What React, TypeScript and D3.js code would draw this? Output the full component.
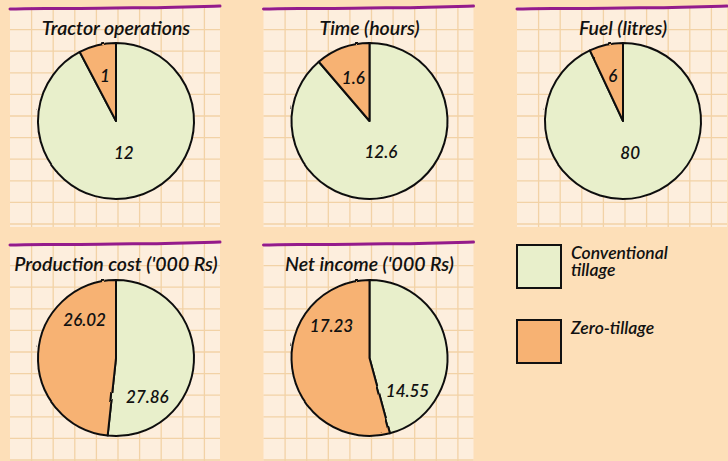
import React, { useEffect, useRef } from 'react';
import * as d3 from 'd3';

// chart titles, one pie per title
const titles = [
  'Tractor operations',
  'Time (hours)',
  'Fuel (litres)',
  "Production cost ('000 Rs)",
  "Net income ('000 Rs)",
];
const conventional = [12, 12.6, 80, 27.86, 14.55];
const zeroTillage = [1, 1.6, 6, 26.02, 17.23];
const seriesNames = ['Conventional tillage', 'Zero-tillage'];

const W = 728;
const H = 461;
const colors = ['#e8efcb', '#f7b273'];
const font = 'Lato, "Open Sans", sans-serif';

const App = () => {
  const svgRef = useRef<SVGSVGElement>(null);

  useEffect(() => {
    const svg = d3.select(svgRef.current).attr('width', W).attr('height', H);
    svg.selectAll('*').remove();

    svg.append('rect').attr('width', W).attr('height', H).attr('fill', '#fddfb8');

    const defs = svg.append('defs');
    const filter = defs.append('filter').attr('id', 'rough')
      .attr('x', '-20%').attr('y', '-20%').attr('width', '140%').attr('height', '140%');
    filter.append('feTurbulence').attr('type', 'fractalNoise').attr('baseFrequency', 0.04)
      .attr('numOctaves', 1).attr('seed', 3).attr('result', 'noise');
    filter.append('feDisplacementMap').attr('in', 'SourceGraphic').attr('in2', 'noise').attr('scale', 2.5);

    // panel layout
    const panelW = 210;
    const colX = d3.scalePoint<number>().domain([0, 1, 2]).range([10, 517]);
    const rowY = d3.scalePoint<number>().domain([0, 1]).range([7, 243]);
    const cell = 21.6;
    const R = 78;

    const pie = d3.pie<number>().sort(null).value((d) => d);
    const arc = d3.arc<d3.PieArcDatum<number>>().innerRadius(0).outerRadius(R);

    titles.forEach((title, i) => {
      const px = colX(i % 3)!;
      const py = rowY(Math.floor(i / 3))!;
      const g = svg.append('g').attr('transform', `translate(${px},${py})`);

      const panelH = Math.min(220, H - py + 20);
      g.append('rect').attr('width', panelW).attr('height', panelH).attr('fill', '#fdeedd');

      // grid
      const grid = g.append('g').attr('stroke', '#f2d2a6').attr('stroke-width', 1.3);
      d3.range(cell, panelW, cell).forEach((x) => {
        grid.append('line').attr('x1', x).attr('x2', x).attr('y1', 0).attr('y2', panelH);
      });
      d3.range(cell + 1, panelH, cell).forEach((y) => {
        grid.append('line').attr('x1', 0).attr('x2', panelW).attr('y1', y).attr('y2', y);
      });

      // purple hand drawn top line
      const wobble = [2, 1.4, 1.8, 0.8, 0.9, 0, -1];
      const line = d3.line<number>()
        .x((_, k) => (k / (wobble.length - 1)) * panelW)
        .y((d) => d)
        .curve(d3.curveBasis);
      g.append('path').attr('d', line(wobble)).attr('fill', 'none')
        .attr('stroke', '#941b8b').attr('stroke-width', 3).attr('stroke-linecap', 'round');

      g.append('text')
        .attr('x', 106)
        .attr('y', 28)
        .attr('text-anchor', 'middle')
        .attr('font-family', font)
        .attr('font-style', 'italic')
        .attr('font-weight', 600)
        .attr('font-size', 19.5)
        .attr('fill', '#111')
        .text(title);

      const values = [conventional[i], zeroTillage[i]];
      const total = d3.sum(values);
      const dominated = d3.max(values)! / total > 0.8;
      const arcs = pie(values);

      const pg = g.append('g').attr('transform', `translate(106,${114 + (i >= 3 ? 1 : 0)})`);
      pg.selectAll('path')
        .data(arcs)
        .enter()
        .append('path')
        .attr('d', arc)
        .attr('fill', (_, k) => colors[k])
        .attr('stroke', '#111')
        .attr('stroke-width', 2)
        .attr('stroke-linejoin', 'round')
        .attr('filter', 'url(#rough)');

      pg.selectAll('text')
        .data(arcs)
        .enter()
        .append('text')
        .each(function (d) {
          const share = d.value / total;
          const mid = (d.startAngle + d.endAngle) / 2;
          const angle = dominated ? mid : mid + (48 * Math.PI) / 180;
          const r = dominated ? (share > 0.5 ? 0.42 * R : 0.6 * R) : 0.64 * R;
          const [x, y] = d3.pointRadial(angle, r);
          d3.select(this).attr('x', x).attr('y', y);
        })
        .attr('text-anchor', 'middle')
        .attr('dominant-baseline', 'central')
        .attr('font-family', font)
        .attr('font-style', 'italic')
        .attr('font-weight', 600)
        .attr('font-size', 17)
        .attr('fill', '#111')
        .text((d) => String(d.value));
    });

    // legend
    const legend = svg.append('g').attr('transform', 'translate(517,245)');
    const ly = d3.scalePoint<number>().domain([0, 1]).range([0, 75]);
    seriesNames.forEach((name, k) => {
      const lg = legend.append('g').attr('transform', `translate(0,${ly(k)})`);
      lg.append('rect').attr('width', 44).attr('height', 43).attr('fill', colors[k])
        .attr('stroke', '#111').attr('stroke-width', 2);
      const words = k === 0 ? ['Conventional', 'tillage'] : [name];
      const t = lg.append('text')
        .attr('font-family', font)
        .attr('font-style', 'italic')
        .attr('font-weight', 600)
        .attr('font-size', 17.5)
        .attr('fill', '#111');
      words.forEach((w, j) => {
        t.append('tspan').attr('x', 54).attr('y', 14 + j * 17).text(w);
      });
    });
  }, []);

  return <svg ref={svgRef} style={{ position: 'absolute', left: 0, top: 0, display: 'block' }} />;
};

export default App;
